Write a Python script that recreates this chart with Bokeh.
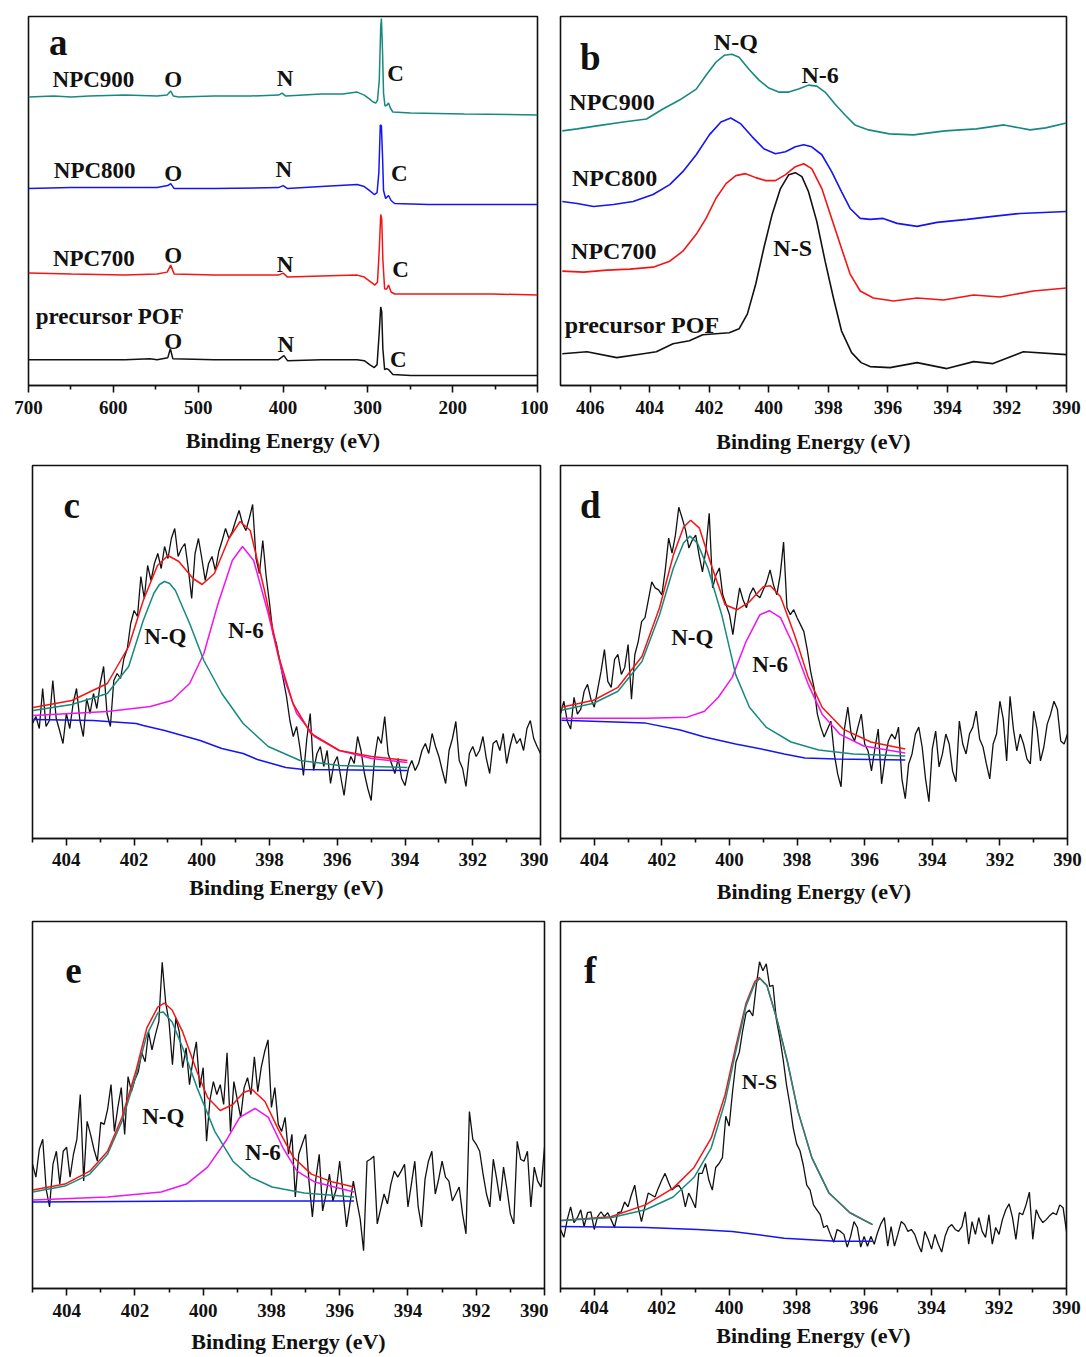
from bokeh.plotting import figure
from bokeh.models import Range1d, FixedTicker, Label
from bokeh.layouts import column, row
from bokeh.embed import file_html
from bokeh.resources import INLINE

FONT = "Liberation Serif"
TEAL = "#17897f"
BLUE = "#1414f5"
RED = "#f51414"
MAGENTA = "#f014f0"
INK = "#111111"

# ---------------- panel a : survey spectra (x in eV, y in a.u.) ----------------
a_x_900 = [700, 670.5, 649.5, 628.4, 586.3, 548.4, 536.6, 532.4, 529.1, 523.2, 481.1, 438.9, 405.3, 401.1,
           396.8, 354.7, 329.5, 312.6, 304.2, 297.9, 293.7, 290.7, 288.6, 286.5, 284.8, 284.0, 282.7, 281.5,
           279.8, 277.3, 275.6, 273.5, 270.5, 249.5, 186.3, 100]
a_y_900 = [290, 291, 290, 291, 292, 291, 292, 296, 291, 290, 291, 291, 292, 294, 291, 293, 293, 295, 292, 288,
           285, 284, 287, 307, 361, 369, 337, 294, 281, 282, 284, 279, 275, 274, 273, 272]
a_x_800 = [700, 649.5, 586.3, 548.4, 535.8, 532.4, 528.2, 481.1, 405.3, 399.8, 394.7, 354.7, 312.6, 304.2,
           297.9, 292.4, 289.1, 287.0, 285.3, 284.0, 282.7, 281.5, 279.0, 275.6, 272.6, 268.4, 228.4, 100]
a_y_800 = [198, 199, 199, 199, 201, 203, 198, 198, 199, 201, 198, 200, 202, 200, 196, 192, 194, 214, 262, 261,
           231, 196, 188, 191, 186, 183, 182, 182]
a_x_700 = [700, 649.5, 586.3, 548.4, 536.6, 532.4, 528.2, 481.1, 405.3, 399.8, 394.7, 354.7, 312.6, 304.2,
           297.9, 291.6, 288.6, 286.5, 284.8, 283.6, 282.3, 280.2, 277.7, 275.6, 272.6, 268.4, 228.4, 152.6, 100]
a_y_700 = [113, 112, 111, 112, 114, 121, 112, 111, 111, 113, 109, 110, 111, 109, 105, 101, 104, 137, 172, 167,
           127, 97, 97, 101, 94, 92, 92, 92, 91]
a_x_pof = [700, 649.5, 586.3, 556.8, 548.4, 535.8, 532.8, 529.9, 481.1, 405.3, 398.9, 394.7, 354.7, 312.6,
           304.2, 297.9, 292.4, 289.1, 286.5, 284.8, 283.6, 282.3, 280.2, 277.7, 275.6, 270.5, 249.5, 152.6, 100]
a_y_pof = [26, 26, 26, 27, 26, 28, 37, 27, 26, 26, 30, 25, 26, 26, 25, 21, 18, 21, 54, 79, 74, 37, 16, 17, 16,
           11, 10, 10, 10]

# ---------------- panel b : N1s comparison ----------------
b_x_900 = [406.94, 406.44, 405.78, 404.89, 404.11, 403.56, 403.0, 402.44, 402.11, 401.78, 401.5, 401.24, 401.0,
           400.67, 400.33, 400.0, 399.67, 399.33, 399.0, 398.67, 398.39, 398.11, 397.78, 397.44, 397.11, 396.65,
           395.95, 395.14, 394.08, 393.03, 392.1, 391.22, 390.7, 390.0]
b_y_900 = [256, 258, 261, 265, 268, 278, 287, 298, 312, 325, 332, 333, 330, 318, 307, 299, 295, 295, 298, 302,
           301, 295, 283, 272, 262, 257, 253, 252, 256, 258, 262, 257, 259, 264]
b_x_800 = [406.94, 406.44, 405.89, 405.22, 404.56, 403.89, 403.33, 402.89, 402.44, 402.0, 401.61, 401.28, 400.94,
           400.56, 400.17, 399.78, 399.44, 399.11, 398.83, 398.56, 398.22, 397.89, 397.56, 397.27, 396.93, 396.6,
           396.16, 395.69, 395.02, 394.35, 393.34, 392.47, 391.56, 390.0]
b_y_800 = [185, 183, 180, 182, 185, 192, 202, 215, 232, 252, 265, 269, 263, 250, 238, 233, 235, 240, 242, 240,
           232, 215, 195, 178, 168, 167, 168, 163, 160, 164, 167, 170, 173, 175]
b_x_700 = [406.94, 406.22, 405.44, 404.67, 403.89, 403.33, 402.89, 402.44, 402.11, 401.78, 401.44, 401.11, 400.78,
           400.44, 400.11, 399.78, 399.44, 399.11, 398.83, 398.56, 398.22, 397.89, 397.56, 397.27, 396.93, 396.49,
           395.81, 395.02, 394.13, 393.12, 392.23, 391.11, 390.0]
b_y_700 = [115, 114, 116, 117, 119, 125, 135, 152, 168, 188, 203, 211, 213, 209, 206, 206, 212, 220, 223, 218,
           198, 168, 138, 112, 95, 88, 85, 88, 86, 91, 89, 95, 98]
b_x_pof = [406.94, 406.11, 405.11, 404.22, 403.78, 403.22, 402.67, 402.22, 401.78, 401.33, 401.0, 400.72, 400.44,
           400.17, 399.89, 399.61, 399.33, 399.11, 398.89, 398.67, 398.39, 398.11, 397.83, 397.56, 397.22, 396.9,
           396.6, 395.93, 395.02, 394.02, 393.12, 392.47, 391.45, 390.0]
b_y_pof = [32, 34, 28, 32, 34, 42, 45, 51, 52, 53, 57, 72, 102, 138, 172, 198, 212, 214, 210, 195, 165, 125, 88,
           55, 33, 23, 19, 18, 23, 17, 24, 22, 34, 31]

# ---------------- measured N1s spectra on the instrument energy grid ----------------
energy = [405.0, 404.9, 404.8, 404.7, 404.6, 404.5, 404.4, 404.3, 404.2, 404.1,
          404.0, 403.9, 403.8, 403.7, 403.6, 403.5, 403.4, 403.3, 403.2, 403.1,
          403.0, 402.9, 402.8, 402.7, 402.6, 402.5, 402.4, 402.3, 402.2, 402.1,
          402.0, 401.9, 401.8, 401.7, 401.6, 401.5, 401.4, 401.3, 401.2, 401.1,
          401.0, 400.9, 400.8, 400.7, 400.6, 400.5, 400.4, 400.3, 400.2, 400.1,
          400.0, 399.9, 399.8, 399.7, 399.6, 399.5, 399.4, 399.3, 399.2, 399.1,
          399.0, 398.9, 398.8, 398.7, 398.6, 398.5, 398.4, 398.3, 398.2, 398.1,
          398.0, 397.9, 397.8, 397.7, 397.6, 397.5, 397.4, 397.3, 397.2, 397.1,
          397.0, 396.9, 396.8, 396.7, 396.6, 396.5, 396.4, 396.3, 396.2, 396.1,
          396.0, 395.9, 395.8, 395.7, 395.6, 395.5, 395.4, 395.3, 395.2, 395.1,
          395.0, 394.9, 394.8, 394.7, 394.6, 394.5, 394.4, 394.3, 394.2, 394.1,
          394.0, 393.9, 393.8, 393.7, 393.6, 393.5, 393.4, 393.3, 393.2, 393.1,
          393.0, 392.9, 392.8, 392.7, 392.6, 392.5, 392.4, 392.3, 392.2, 392.1,
          392.0, 391.9, 391.8, 391.7, 391.6, 391.5, 391.4, 391.3, 391.2, 391.1,
          391.0, 390.9, 390.8, 390.7, 390.6, 390.5, 390.4, 390.3, 390.2, 390.1,
          390.0]

c_counts = [115, 122, 110, 150, 112, 118, 158, 120, 108, 95,
            125, 110, 135, 150, 118, 102, 140, 125, 145, 130,
            155, 172, 125, 112, 158, 165, 160, 180, 190, 215,
            228, 222, 262, 240, 273, 258, 275, 285, 270, 292,
            280, 300, 310, 282, 290, 295, 270, 240, 285, 300,
            280, 258, 275, 282, 268, 287, 298, 310, 300, 307,
            318, 328, 315, 308, 320, 334, 280, 265, 298, 262,
            235, 205, 195, 178, 160, 142, 118, 102, 112, 90,
            63, 100, 125, 68, 85, 92, 72, 88, 55, 75,
            82, 62, 43, 70, 82, 75, 102, 88, 65, 50,
            38, 80, 102, 95, 122, 85, 75, 65, 80, 60,
            53, 70, 78, 68, 75, 88, 95, 85, 105, 92,
            82, 68, 55, 88, 100, 117, 78, 70, 52, 85,
            92, 82, 88, 102, 80, 65, 95, 98, 88, 105,
            75, 92, 105, 95, 100, 88, 110, 118, 100, 92,
            85]
d_counts = [125, 138, 118, 110, 142, 125, 130, 148, 155, 140,
            132, 150, 168, 190, 158, 152, 180, 185, 165, 172,
            195, 140, 185, 198, 218, 222, 240, 258, 252, 250,
            245, 270, 302, 287, 305, 333, 322, 310, 292, 300,
            305, 285, 268, 290, 327, 252, 265, 272, 245, 235,
            225, 205, 230, 252, 240, 232, 245, 252, 245, 242,
            250, 258, 270, 255, 245, 265, 298, 232, 225, 230,
            222, 215, 208, 190, 168, 152, 125, 112, 102, 110,
            118, 85, 65, 52, 110, 132, 105, 98, 112, 125,
            95, 88, 68, 90, 110, 55, 80, 98, 105, 100,
            112, 60, 40, 75, 85, 105, 112, 92, 60, 37,
            90, 108, 72, 85, 105, 95, 68, 57, 118, 95,
            85, 105, 112, 128, 100, 92, 75, 60, 95, 105,
            138, 120, 78, 143, 110, 88, 105, 95, 80, 75,
            128, 110, 78, 92, 115, 125, 138, 130, 98, 95,
            105]
e_counts = [125, 112, 140, 150, 100, 82, 125, 138, 105, 138,
            142, 112, 135, 150, 195, 108, 168, 155, 140, 128,
            167, 165, 180, 205, 158, 182, 202, 155, 213, 198,
            210, 218, 237, 228, 258, 240, 255, 268, 328, 288,
            268, 225, 272, 258, 222, 242, 205, 230, 248, 202,
            222, 148, 190, 208, 195, 205, 185, 237, 158, 208,
            190, 172, 202, 212, 195, 233, 198, 222, 238, 250,
            182, 202, 165, 158, 172, 135, 155, 92, 135, 145,
            155, 108, 72, 110, 135, 78, 95, 115, 88, 100,
            128, 95, 62, 85, 108, 88, 70, 38, 128, 130,
            133, 65, 80, 95, 85, 105, 118, 112, 118, 125,
            82, 105, 128, 82, 62, 110, 128, 138, 95, 110,
            128, 112, 108, 88, 95, 102, 75, 55, 178, 150,
            145, 138, 115, 95, 82, 130, 110, 88, 122, 100,
            75, 65, 148, 130, 128, 138, 82, 122, 108, 102,
            142]
f_counts = [60, 52, 70, 83, 67, 72, 80, 63, 77, 78,
            60, 73, 78, 73, 77, 70, 62, 77, 78, 88,
            83, 95, 105, 83, 68, 83, 97, 95, 93, 102,
            110, 117, 108, 100, 103, 105, 100, 83, 97, 90,
            82, 117, 117, 127, 110, 100, 123, 127, 133, 175,
            165, 200, 230, 240, 262, 280, 283, 277, 307, 332,
            323, 330, 307, 308, 273, 255, 233, 207, 187, 163,
            147, 140, 125, 105, 100, 85, 80, 75, 62, 64,
            55, 47, 60, 58, 55, 42, 53, 68, 62, 42,
            53, 43, 53, 45, 57, 66, 72, 43, 63, 43,
            55, 68, 65, 58, 60, 55, 45, 37, 58, 50,
            40, 55, 45, 37, 53, 62, 65, 60, 58, 63,
            78, 45, 68, 55, 72, 58, 52, 75, 45, 62,
            55, 70, 80, 86, 72, 50, 77, 75, 85, 98,
            50, 80, 72, 67, 70, 74, 77, 75, 85, 82,
            58]

# ---------------- fitted components ----------------
c_bg_x = [404.98, 403.21, 402.79, 401.94, 401.73, 401.1, 400.47, 400.05, 399.41, 398.78, 398.36, 397.94, 397.52, 396.99, 393.93]
c_bg_y = [119, 118, 117, 115, 113, 108, 102, 98, 90, 85, 79, 75, 71, 69, 68]
c_nq_x = [404.98, 403.84, 402.79, 402.16, 401.73, 401.42, 401.25, 401.1, 400.95, 400.78, 400.36, 399.94, 399.41, 398.78, 398.04, 397.1, 395.94, 393.93]
c_nq_y = [128, 134, 145, 172, 218, 245, 254, 257, 255, 248, 215, 178, 145, 115, 92, 78, 73, 71]
c_n6_x = [404.98, 402.79, 401.52, 400.89, 400.36, 399.94, 399.52, 399.1, 398.8, 398.47, 398.04, 397.62, 397.2, 396.67, 395.94, 394.99, 393.93]
c_n6_y = [123, 127, 132, 138, 155, 185, 235, 278, 292, 278, 225, 165, 125, 102, 88, 80, 76]
c_env_x = [404.98, 403.84, 402.79, 402.16, 401.73, 401.31, 401.0, 400.68, 400.26, 399.99, 399.63, 399.2, 398.87, 398.57, 398.15, 397.73, 397.31, 396.78, 395.94, 394.99, 393.93]
c_env_y = [131, 138, 155, 192, 238, 273, 283, 277, 260, 254, 265, 300, 317, 308, 248, 182, 135, 105, 88, 82, 78]

d_bg_x = [404.97, 402.48, 401.46, 400.74, 399.82, 398.92, 398.38, 397.77, 396.85, 394.8]
d_bg_y = [119, 116, 109, 102, 95, 89, 85, 81, 80, 79]
d_nq_x = [404.97, 404.02, 403.3, 402.59, 402.07, 401.66, 401.36, 401.17, 400.95, 400.64, 400.23, 399.82, 399.41, 398.92, 398.18, 397.36, 396.33, 394.8]
d_nq_y = [129, 136, 148, 178, 225, 272, 297, 304, 297, 272, 225, 165, 132, 112, 97, 89, 85, 83]
d_n6_x = [404.97, 402.48, 401.25, 400.74, 400.33, 399.92, 399.51, 399.1, 398.82, 398.49, 398.08, 397.67, 397.26, 396.74, 396.03, 394.8]
d_n6_y = [121, 121, 122, 128, 142, 162, 198, 225, 229, 222, 192, 155, 125, 105, 93, 86]
d_env_x = [404.97, 404.02, 403.3, 402.59, 402.07, 401.66, 401.36, 401.15, 400.89, 400.54, 400.13, 399.77, 399.41, 399.0, 398.79, 398.49, 398.08, 397.67, 397.26, 396.64, 395.82, 394.8]
d_env_y = [132, 139, 152, 183, 232, 285, 313, 320, 312, 275, 235, 230, 238, 253, 254, 243, 205, 162, 132, 110, 97, 90]

e_bg_x = [404.99, 400.0, 395.58]
e_bg_y = [87, 88, 88]
e_nq_x = [404.99, 404.05, 403.32, 402.8, 402.38, 401.96, 401.65, 401.33, 401.17, 400.91, 400.6, 400.18, 399.66, 399.13, 398.61, 397.98, 397.04, 395.58]
e_nq_y = [97, 103, 115, 135, 168, 215, 255, 277, 278, 268, 242, 202, 158, 128, 112, 102, 96, 92]
e_n6_x = [404.99, 402.8, 401.23, 400.49, 399.87, 399.34, 398.93, 398.48, 398.09, 397.67, 397.25, 396.73, 395.58]
e_n6_y = [89, 92, 97, 105, 122, 148, 172, 181, 172, 142, 118, 107, 97]
e_env_x = [404.99, 404.05, 403.32, 402.8, 402.38, 401.96, 401.65, 401.33, 401.14, 400.91, 400.6, 400.18, 399.87, 399.5, 399.13, 398.82, 398.56, 398.19, 397.77, 397.36, 396.83, 396.2, 395.58]
e_env_y = [99, 105, 118, 138, 172, 220, 262, 283, 287, 280, 258, 218, 192, 179, 185, 197, 200, 188, 158, 132, 115, 107, 102]

f_bg_x = [404.98, 402.48, 400.94, 399.91, 399.19, 398.37, 396.83, 395.75]
f_bg_y = [63, 62, 60, 58, 55, 51, 48, 48]
f_ns_x = [404.98, 403.51, 402.48, 401.66, 401.04, 400.53, 400.12, 399.81, 399.5, 399.24, 399.09, 398.88, 398.58, 398.27, 397.96, 397.55, 397.04, 396.42, 395.75]
f_ns_y = [69, 72, 80, 93, 113, 143, 190, 240, 287, 310, 315, 308, 273, 230, 180, 133, 97, 77, 65]
f_env_x = [404.98, 403.51, 402.48, 401.66, 401.04, 400.53, 400.12, 399.81, 399.5, 399.24, 399.11, 398.88, 398.58, 398.27, 397.96, 397.55, 397.04, 396.42, 395.75]
f_env_y = [69, 73, 85, 102, 123, 153, 197, 245, 290, 312, 316, 308, 273, 230, 180, 133, 97, 77, 65]

XPS_MAJOR = [404, 402, 400, 398, 396, 394, 392, 390]
XPS_MINOR = [405, 403, 401, 399, 397, 395, 393, 391]


def make_panel(x_start, x_end, majors, minors, width, height, bl, br, bt, bb, y_top, lab_off, axl_off):
    p = figure(width=width, height=height, x_range=Range1d(x_start, x_end), y_range=Range1d(0, y_top),
               output_backend="svg", toolbar_location=None,
               min_border_left=bl, min_border_right=br, min_border_top=bt, min_border_bottom=bb)
    p.yaxis.visible = False
    p.xgrid.visible = False
    p.ygrid.visible = False
    p.outline_line_color = INK
    p.outline_line_width = 1.6
    p.outline_line_alpha = 1.0
    ax = p.xaxis[0]
    ax.ticker = FixedTicker(ticks=majors, minor_ticks=minors)
    ax.axis_label = "Binding Energy (eV)"
    ax.axis_label_text_font = FONT
    ax.axis_label_text_font_style = "bold"
    ax.axis_label_text_font_size = "22px"
    ax.axis_label_text_color = INK
    ax.axis_label_standoff = axl_off
    ax.major_label_text_font = FONT
    ax.major_label_text_font_style = "bold"
    ax.major_label_text_font_size = "19px"
    ax.major_label_text_color = INK
    ax.major_label_standoff = lab_off
    ax.axis_line_color = INK
    ax.axis_line_width = 1.6
    ax.major_tick_line_color = INK
    ax.minor_tick_line_color = INK
    ax.major_tick_line_width = 1.6
    ax.minor_tick_line_width = 1.6
    ax.major_tick_in = 0
    ax.major_tick_out = 7
    ax.minor_tick_in = 0
    ax.minor_tick_out = 4
    return p


def add_text(p, x, y, text, size):
    p.add_layout(Label(x=x, y=y, text=text, text_font=FONT, text_font_style="bold",
                       text_font_size=size, text_align="center", text_baseline="middle",
                       text_color=INK))


LW = 1.5

# ---- a ----
pa = make_panel(700, 100, [700, 600, 500, 400, 300, 200, 100], [650, 550, 450, 350, 250, 150],
                548, 458, 28, 11, 16, 71, 371, 8, 11)
pa.line(a_x_900, a_y_900, line_color=TEAL, line_width=LW)
pa.line(a_x_800, a_y_800, line_color=BLUE, line_width=LW)
pa.line(a_x_700, a_y_700, line_color=RED, line_width=LW)
pa.line(a_x_pof, a_y_pof, line_color=INK, line_width=LW)
add_text(pa, 665, 345, "a", "37px")
for (lx, ly, lt) in [(623.4, 308, "NPC900"), (529.5, 308, "O"), (397.7, 309, "N"), (267.2, 314, "C"),
                     (622, 216, "NPC800"), (529.5, 213, "O"), (399, 217, "N"), (263, 213, "C"),
                     (623, 128, "NPC700"), (529.5, 131, "O"), (397.7, 122, "N"), (261.3, 117, "C"),
                     (604, 69, "precursor POF"), (529.5, 44, "O"), (396.8, 41, "N"), (264, 26, "C")]:
    add_text(pa, lx, ly, lt, "23px")

# ---- b ----
pb = make_panel(407, 390, [406, 404, 402, 400, 398, 396, 394, 392, 390], [405, 403, 401, 399, 397, 395, 393, 391],
                538, 458, 12, 20, 14, 73, 371, 8, 12)
pb.line(b_x_900, b_y_900, line_color=TEAL, line_width=1.6)
pb.line(b_x_800, b_y_800, line_color=BLUE, line_width=1.6)
pb.line(b_x_700, b_y_700, line_color=RED, line_width=1.6)
pb.line(b_x_pof, b_y_pof, line_color=INK, line_width=1.6)
add_text(pb, 406.0, 330, "b", "37px")
for (lx, ly, lt) in [(401.11, 345, "N-Q"), (398.28, 312, "N-6"), (405.27, 285, "NPC900"),
                     (405.18, 209, "NPC800"), (405.21, 135, "NPC700"), (399.2, 138, "N-S"),
                     (404.26, 61, "precursor POF")]:
    add_text(pb, lx, ly, lt, "24px")

# ---- c ----
pc = make_panel(405, 390, XPS_MAJOR, XPS_MINOR, 548, 454, 32, 8, 7, 74, 373, 7, 6)
pc.line(energy, c_counts, line_color=INK, line_width=1.3)
pc.line(c_bg_x, c_bg_y, line_color=BLUE, line_width=LW)
pc.line(c_n6_x, c_n6_y, line_color=MAGENTA, line_width=LW)
pc.line(c_nq_x, c_nq_y, line_color=TEAL, line_width=LW)
pc.line(c_env_x, c_env_y, line_color=RED, line_width=LW)
add_text(pc, 403.84, 333, "c", "37px")
add_text(pc, 401.08, 202, "N-Q", "23px")
add_text(pc, 398.7, 208, "N-6", "23px")

# ---- d ----
pd_ = make_panel(405, 390, XPS_MAJOR, XPS_MINOR, 538, 454, 12, 19, 6, 73, 375, 7, 10)
pd_.line(energy, d_counts, line_color=INK, line_width=1.3)
pd_.line(d_bg_x, d_bg_y, line_color=BLUE, line_width=LW)
pd_.line(d_n6_x, d_n6_y, line_color=MAGENTA, line_width=LW)
pd_.line(d_nq_x, d_nq_y, line_color=TEAL, line_width=LW)
pd_.line(d_env_x, d_env_y, line_color=RED, line_width=LW)
add_text(pd_, 404.12, 335, "d", "37px")
add_text(pd_, 401.1, 202, "N-Q", "23px")
add_text(pd_, 398.8, 175, "N-6", "23px")

# ---- e ----
pe = make_panel(405, 390, XPS_MAJOR, XPS_MINOR, 548, 445, 32, 4, 7, 69, 369, 8, 9)
pe.line(energy, e_counts, line_color=INK, line_width=1.3)
pe.line(e_bg_x, e_bg_y, line_color=BLUE, line_width=LW)
pe.line(e_n6_x, e_n6_y, line_color=MAGENTA, line_width=LW)
pe.line(e_nq_x, e_nq_y, line_color=TEAL, line_width=LW)
pe.line(e_env_x, e_env_y, line_color=RED, line_width=LW)
add_text(pe, 403.8, 320, "e", "37px")
add_text(pe, 401.17, 173, "N-Q", "23px")
add_text(pe, 398.25, 137, "N-6", "23px")

# ---- f ----
pf = make_panel(405, 390, XPS_MAJOR, XPS_MINOR, 538, 445, 12, 20, 9, 63, 373, 5, 6)
pf.line(energy, f_counts, line_color=INK, line_width=1.3)
pf.line(f_bg_x, f_bg_y, line_color=BLUE, line_width=LW)
pf.line(f_env_x, f_env_y, line_color=RED, line_width=LW)
pf.line(f_ns_x, f_ns_y, line_color=TEAL, line_width=LW)
add_text(pf, 404.12, 323, "f", "37px")
add_text(pf, 399.1, 210, "N-S", "22px")

layout = column(row(pa, pb), row(pc, pd_), row(pe, pf))
open("out.html", "w").write(file_html(layout, INLINE))
